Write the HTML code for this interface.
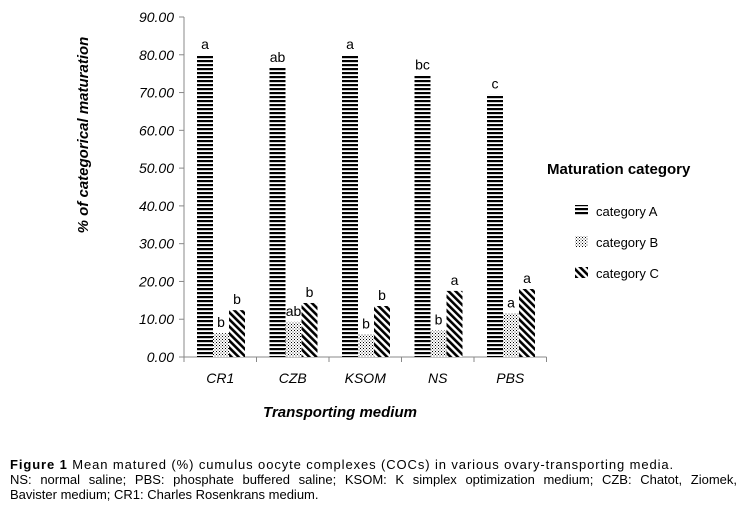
<!DOCTYPE html>
<html><head><meta charset="utf-8"><style>
body{margin:0;background:#fff;width:742px;height:510px;overflow:hidden;font-family:"Liberation Sans",Arial,sans-serif}
svg{position:absolute;left:0;top:0}
.cap{position:absolute;left:10px;top:457px;font-size:13px;line-height:15px;color:#000;width:727px}
.j{text-align:justify;text-align-last:justify}
</style></head><body>
<svg width="742" height="450">
<defs>
<pattern id="pA" width="4" height="4" patternUnits="userSpaceOnUse"><rect width="4" height="4" fill="#fff"/><rect width="4" height="2.2" fill="#000"/></pattern>
<pattern id="pB" width="3" height="3" patternUnits="userSpaceOnUse"><rect width="3" height="3" fill="#fff"/><rect width="1" height="1" fill="#000"/><rect x="1.5" y="1.5" width="1" height="1" fill="#444"/></pattern>
<pattern id="pC" width="5" height="5" patternUnits="userSpaceOnUse" patternTransform="rotate(-45)"><rect width="5" height="5" fill="#fff"/><rect width="2.6" height="5" fill="#000"/></pattern>
</defs>
<g id="g"></g>
</svg>
<div class="cap"><div style="white-space:nowrap;letter-spacing:0.9px"><b>Figure 1</b> Mean matured (%) cumulus oocyte complexes (COCs) in various ovary-transporting media.</div><div class="j">NS: normal saline; PBS: phosphate buffered saline; KSOM: K simplex optimization medium; CZB: Chatot, Ziomek,</div><div>Bavister medium; CR1: Charles Rosenkrans medium.</div></div>
<script>
const categories=["CR1","CZB","KSOM","NS","PBS"];
const seriesA=[80,76.5,80,74.5,69.5];
const seriesB=[6.3,9.3,6,7,11.5];
const seriesC=[12.4,14.3,13.5,17.5,18];
const lettersA=["a","ab","a","bc","c"];
const lettersB=["b","ab","b","b","a"];
const lettersC=["b","b","b","a","a"];
const yTicks=[0,10,20,30,40,50,60,70,80,90];
const NS="http://www.w3.org/2000/svg";
const g=document.getElementById('g');
const x0=184,step=72.5,y0=357,yTop=17,ymax=90;
const y=v=>y0-(v/ymax)*(y0-yTop);
function el(t,a,txt){const e=document.createElementNS(NS,t);for(const k in a)e.setAttribute(k,a[k]);if(txt!==undefined)e.textContent=txt;g.appendChild(e);return e;}
let e=el('line',{x1:x0,y1:y(0),x2:x0,y2:y(90),stroke:'#888'});

e=el('line',{x1:x0,y1:y(0),x2:x0+step*categories.length,y2:y(0),stroke:'#888'});

yTicks.forEach(v=>{
 let t=el('line',{x1:x0-5,x2:x0,y1:y(v),y2:y(v),stroke:'#888'});
 
 t=el('text',{x:x0-10,y:y(v)+5,'text-anchor':'end','font-size':14,'font-style':'italic'},v.toFixed(2));
 
});
for(let i=0;i<=categories.length;i++){
 let t=el('line',{x1:x0+i*step,x2:x0+i*step,y1:y(0),y2:y(0)+5,stroke:'#888'});
 
}
const series=[[seriesA,'pA',lettersA],[seriesB,'pB',lettersB],[seriesC,'pC',lettersC]];
categories.forEach((c,i)=>{
 const gx=x0+i*step+13;
 series.forEach(([vals,pat,lets],s)=>{
  const bx=gx+s*16;
  let r=el('rect',{x:bx,y:y(vals[i]),width:16,height:y(0)-y(vals[i]),fill:'url(#'+pat+')'});
  
  let t=el('text',{x:bx+8,y:y(vals[i])-6,'text-anchor':'middle','font-size':14},lets[i]);
  
 });
 let t=el('text',{x:x0+i*step+step/2,y:383,'text-anchor':'middle','font-size':14,'font-style':'italic'},c);
 
});
e=el('text',{x:340,y:417,'text-anchor':'middle','font-size':15,'font-style':'italic','font-weight':'bold'},'Transporting medium');

e=el('text',{x:0,y:0,'text-anchor':'middle','font-size':15,'font-style':'italic','font-weight':'bold',transform:'translate(88,135) rotate(-90)'},'% of categorical maturation');

e=el('text',{x:547,y:174,'font-size':15,'font-weight':'bold'},'Maturation category');

['category A','category B','category C'].forEach((n,k)=>{
 const ly=214+k*31;
 let r=el('rect',{x:575,y:ly-9,width:13,height:11,fill:'url(#'+series[k][1]+')'});
 
 let t=el('text',{x:596,y:ly+2,'font-size':13},n);
 
});
</script>
</body></html>
